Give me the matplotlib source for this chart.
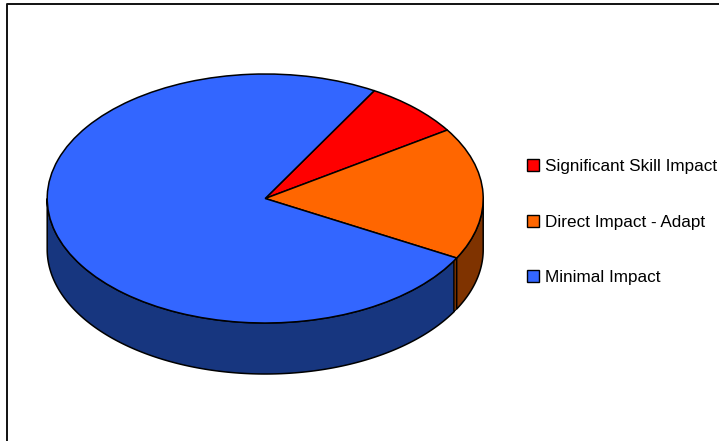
import numpy as np
import matplotlib
matplotlib.use("Agg")
import matplotlib.pyplot as plt
from matplotlib.lines import Line2D

labels = ["Significant Skill Impact", "Direct Impact - Adapt", "Minimal Impact"]
values = [7.4, 17.2, 75.4]
colors = ["#FF0000", "#FF6600", "#3366FF"]
side_orange = "#7F3300"
side_blue = "#17367F"

W, H = 719, 441
CX, CY, RX, RY, DEPTH = 265.2, 198.5, 218.0, 124.5, 51
START = 60.0

plt.rcParams["font.family"] = ["Liberation Sans", "DejaVu Sans"]
fig = plt.figure(figsize=(W / 100, H / 100), dpi=100, facecolor="white")
ax = fig.add_axes([0, 0, 1, 1])

wedges, _ = ax.pie(values, colors=colors, startangle=START, counterclock=False,
                   wedgeprops=dict(edgecolor="black", linewidth=1.1, zorder=5))
ax.set_aspect("auto")
ax.set_xlim(-CX / RX, (W - CX) / RX)
ax.set_ylim((CY - H) / RY, CY / RY)
ax.axis("off")

d = DEPTH / RY
fracs = np.cumsum(values) / np.sum(values)
orange_end = START - 360 * fracs[1]
SLIVER = 1.4


def side(a0, a1, color, lw=1.1):
    t = np.radians(np.linspace(a0, a1, 200))
    x, y = np.cos(t), np.sin(t)
    px = np.r_[x, x[::-1]]
    py = np.r_[y, y[::-1] - d]
    ax.fill(px, py, facecolor=color, edgecolor="black", linewidth=lw, zorder=3)


side(-180, orange_end - SLIVER, side_blue)
side(orange_end - SLIVER, orange_end, side_orange, lw=0.7)
side(orange_end, 0, side_orange)

leg = ax.legend(wedges, labels, loc="center left", frameon=False,
                bbox_to_anchor=(527 / W, 1 - 222 / H), fontsize=12.3,
                handlelength=0.7, handleheight=0.7, handletextpad=0.37,
                labelspacing=2.38, borderpad=0, borderaxespad=0)
for h in leg.legend_handles:
    h.set_linewidth(1.0)

fig.add_artist(Line2D([6.5 / W, 6.5 / W, 1], [0, 1 - 3.5 / H, 1 - 3.5 / H],
                      color="#111111", linewidth=1.4, transform=fig.transFigure))
fig.savefig("out.png", dpi=100)
